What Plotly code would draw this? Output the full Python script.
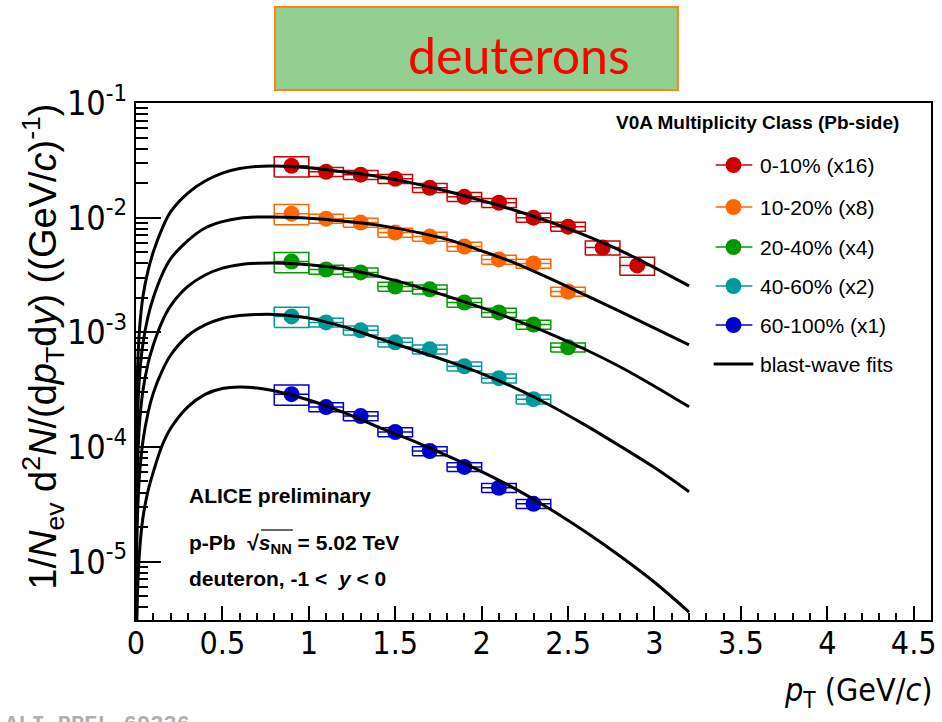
import plotly.graph_objects as go

# ---------------------------------------------------------------------------
# Deuteron pT spectra in p-Pb collisions, V0A multiplicity classes (scaled)
# ---------------------------------------------------------------------------
pt_bins = [0.9, 1.1, 1.3, 1.5, 1.7, 1.9, 2.1, 2.3, 2.5, 2.7, 2.9]
bin_half_width = 0.1

class_labels = ["0-10% (x16)", "10-20% (x8)", "20-40% (x4)", "40-60% (x2)", "60-100% (x1)"]
class_colors = ["#CC0000", "#FF6600", "#009900", "#009999", "#0000CC"]

spec_0_10 = [0.0283, 0.0251, 0.0237, 0.0218, 0.0182, 0.0152, 0.0135, 0.0100, 0.00835, 0.00548, 0.00383]
spec_10_20 = [0.01083, 0.0098, 0.00906, 0.00741, 0.00684, 0.0056, 0.00432, 0.00398, 0.00227]
spec_20_40 = [0.00414, 0.00353, 0.00333, 0.00251, 0.00237, 0.00182, 0.00149, 0.00117, 0.000741]
spec_40_60 = [0.001377, 0.00122, 0.00104, 0.000818, 0.000711, 0.000506, 0.000398, 0.000261]
spec_60_100 = [0.000289, 0.000223, 0.000186, 0.000135, 0.0000923, 0.0000670, 0.0000440, 0.0000319]

# relative systematic uncertainties per bin
sys_0_10 = [0.20, 0.09, 0.09, 0.09, 0.09, 0.09, 0.09, 0.09, 0.09, 0.14, 0.18]
sys_10_20 = [0.20, 0.09, 0.09, 0.09, 0.09, 0.09, 0.09, 0.09, 0.09]
sys_20_40 = [0.20, 0.09, 0.09, 0.09, 0.09, 0.09, 0.09, 0.09, 0.09]
sys_40_60 = [0.20, 0.09, 0.09, 0.09, 0.09, 0.09, 0.09, 0.09]
sys_60_100 = [0.20, 0.09, 0.09, 0.09, 0.09, 0.09, 0.09, 0.09]

# blast-wave fit curves, sampled in pT
fit_pt = [0.0001, 0.001, 0.005, 0.01, 0.02, 0.04, 0.07, 0.1, 0.15, 0.2, 0.3, 0.4, 0.5, 0.6,
          0.7, 0.8, 1.0, 1.2, 1.4, 1.6, 1.8, 2.0, 2.2, 2.4, 2.6, 2.8, 3.0, 3.2]
fit_0_10 = [5.25e-6, 5.25e-5, 2.63e-4, 5.25e-4, 1.047e-3, 2.04e-3, 3.47e-3, 5.01e-3, 7.94e-3,
            0.01122, 0.0164, 0.0209, 0.0245, 0.0268, 0.0280, 0.0282, 0.0272, 0.0251, 0.0229,
            0.0200, 0.0170, 0.0141, 0.01148, 0.00912, 0.0070, 0.00519, 0.00367, 0.00254]
fit_10_20 = [2.04e-6, 2.04e-5, 1.023e-4, 2.04e-4, 4.07e-4, 7.94e-4, 1.38e-3, 2.0e-3, 3.16e-3,
             4.37e-3, 6.31e-3, 8.13e-3, 9.23e-3, 9.89e-3, 0.01012, 0.01012, 9.89e-3, 9.33e-3,
             8.61e-3, 7.59e-3, 6.46e-3, 5.13e-3, 3.98e-3, 2.92e-3, 2.11e-3, 1.52e-3, 1.089e-3, 7.76e-4]
fit_20_40 = [7.94e-7, 7.94e-6, 3.98e-5, 7.94e-5, 1.585e-4, 3.09e-4, 5.37e-4, 7.76e-4, 1.23e-3,
             1.70e-3, 2.51e-3, 3.16e-3, 3.63e-3, 3.89e-3, 4.0e-3, 4.03e-3, 3.89e-3, 3.59e-3,
             3.09e-3, 2.57e-3, 2.07e-3, 1.64e-3, 1.27e-3, 9.66e-4, 7.08e-4, 5.01e-4, 3.39e-4, 2.24e-4]
fit_40_60 = [2.82e-7, 2.82e-6, 1.41e-5, 2.82e-5, 5.62e-5, 1.12e-4, 2.0e-4, 2.95e-4, 4.57e-4,
             6.31e-4, 9.33e-4, 1.16e-3, 1.32e-3, 1.40e-3, 1.43e-3, 1.43e-3, 1.33e-3, 1.12e-3,
             8.91e-4, 7.08e-4, 5.62e-4, 4.37e-4, 3.24e-4, 2.29e-4, 1.55e-4, 1.02e-4, 6.61e-5, 4.07e-5]
fit_60_100 = [6.31e-8, 6.31e-7, 3.02e-6, 6.03e-6, 1.20e-5, 2.40e-5, 4.17e-5, 6.03e-5, 1.02e-4,
              1.45e-4, 2.24e-4, 2.88e-4, 3.24e-4, 3.34e-4, 3.27e-4, 3.09e-4, 2.57e-4, 2.0e-4,
              1.50e-4, 1.135e-4, 8.41e-5, 6.10e-5, 4.27e-5, 2.85e-5, 1.82e-5, 1.12e-5, 6.61e-6, 3.63e-6]

y_tick_vals = [1e-5, 1e-4, 1e-3, 1e-2, 1e-1]
y_tick_text = ["10<sup>-5</sup>", "10<sup>-4</sup>", "10<sup>-3</sup>", "10<sup>-2</sup>", "10<sup>-1</sup>"]

spectra = [spec_0_10, spec_10_20, spec_20_40, spec_40_60, spec_60_100]
sys_unc = [sys_0_10, sys_10_20, sys_20_40, sys_40_60, sys_60_100]
fits = [fit_0_10, fit_10_20, fit_20_40, fit_40_60, fit_60_100]

# ---------------------------------------------------------------------------
W, H = 942, 722
L, R, T, B = 136, 937, 103, 620
HELV = "Liberation Sans Narrow, Arial Narrow, DejaVu Sans Condensed, Liberation Sans, Arial"
HELV_N = "Liberation Sans, Arial, Helvetica"


def px(x):
    return (x - L) / (R - L)


def py(y):
    return (B - y) / (B - T)


fig = go.Figure()

# systematic boxes + points
for vals, rel, col in zip(spectra, sys_unc, class_colors):
    n = len(vals)
    xs = pt_bins[:n]
    bx, by = [], []
    for x, v, r in zip(xs, vals, rel):
        x0, x1 = x - bin_half_width, x + bin_half_width
        lo, hi = v * (1 - r), v * (1 + r)
        bx += [x0, x1, x1, x0, x0, None]
        by += [lo, lo, hi, hi, lo, None]
    fig.add_trace(go.Scatter(x=bx, y=by, mode="lines", line=dict(color=col, width=1.5),
                             hoverinfo="skip", showlegend=False))
    fig.add_trace(go.Scatter(
        x=xs, y=vals, mode="markers",
        marker=dict(size=16, color=col, line=dict(width=0)),
        error_x=dict(type="data", array=[bin_half_width] * n, width=0, thickness=1.5, color=col),
        showlegend=False))

# blast-wave curves
for f in fits:
    fig.add_trace(go.Scatter(x=fit_pt, y=f, mode="lines", line=dict(color="black", width=3, shape="spline"),
                             hoverinfo="skip", showlegend=False))

shapes = []
annotations = []

# title box
shapes.append(dict(type="rect", xref="paper", yref="paper", x0=px(276), x1=px(682), y0=py(90), y1=py(7),
                   fillcolor="#92D092", line=dict(color="#FF8418", width=2), layer="above"))
annotations.append(dict(xref="paper", yref="paper", x=px(522), y=py(55), text="deuterons",
                        showarrow=False, xanchor="center", yanchor="middle",
                        font=dict(family="Lato, Carlito, Open Sans", size=50, color="#FF0000")))

# legend header
annotations.append(dict(xref="paper", yref="paper", x=px(907), y=py(122), text="<b>V0A Multiplicity Class (Pb-side)</b>",
                        showarrow=False, xanchor="right", yanchor="middle",
                        font=dict(family=HELV_N, size=19, color="black")))
legend_rows = [165, 207, 247, 286, 325, 364]
for lab, col, yr in zip(class_labels, class_colors, legend_rows):
    shapes.append(dict(type="line", xref="paper", yref="paper", x0=px(720), x1=px(757), y0=py(yr), y1=py(yr),
                       line=dict(color=col, width=1.5)))
    r = 8
    shapes.append(dict(type="circle", xref="paper", yref="paper", x0=px(738 - r), x1=px(738 + r),
                       y0=py(yr + r), y1=py(yr - r), fillcolor=col, line=dict(width=0)))
    annotations.append(dict(xref="paper", yref="paper", x=px(763), y=py(yr), text=lab, showarrow=False,
                            xanchor="left", yanchor="middle", font=dict(family=HELV_N, size=21, color="black")))
shapes.append(dict(type="line", xref="paper", yref="paper", x0=px(718), x1=px(758), y0=py(legend_rows[-1]),
                   y1=py(legend_rows[-1]), line=dict(color="black", width=3)))
annotations.append(dict(xref="paper", yref="paper", x=px(763), y=py(legend_rows[-1]), text="blast-wave fits",
                        showarrow=False, xanchor="left", yanchor="middle",
                        font=dict(family=HELV_N, size=21, color="black")))

# labels in the lower left
annotations.append(dict(xref="paper", yref="paper", x=px(187), y=py(495), text="<b>ALICE preliminary</b>",
                        showarrow=False, xanchor="left", yanchor="middle", font=dict(family=HELV_N, size=21, color="black")))
annotations.append(dict(xref="paper", yref="paper", x=px(187), y=py(544),
                        text="<b>p-Pb  √<i>s</i><sub>NN</sub> = 5.02 TeV</b>",
                        showarrow=False, xanchor="left", yanchor="middle", font=dict(family=HELV_N, size=21, color="black")))
shapes.append(dict(type="line", xref="paper", yref="paper", x0=px(262), x1=px(294), y0=py(530), y1=py(530),
                   line=dict(color="black", width=1.2)))
annotations.append(dict(xref="paper", yref="paper", x=px(187), y=py(578),
                        text="<b>deuteron, -1 <  <i>y</i> < 0</b>",
                        showarrow=False, xanchor="left", yanchor="middle", font=dict(family=HELV_N, size=21, color="black")))

# axis titles
annotations.append(dict(xref="paper", yref="paper", x=px(42), y=py(347), textangle=-90,
                        text="1/<i>N</i><sub>ev</sub> d<sup>2</sup><i>N</i>/(d<i>p</i><sub>T</sub>d<i>y</i>) ((GeV/<i>c</i>)<sup>-1</sup>)",
                        showarrow=False, xanchor="center", yanchor="middle",
                        font=dict(family=HELV_N, size=38, color="black")))
annotations.append(dict(xref="paper", yref="paper", x=px(940), y=py(692),
                        text="<i>p</i><sub>T</sub> (GeV/<i>c</i>)",
                        showarrow=False, xanchor="right", yanchor="middle",
                        font=dict(family=HELV, size=32, color="black")))

# plot id
annotations.append(dict(xref="paper", yref="paper", x=px(2), y=py(725), text="<b>ALI-PREL-69336</b>",
                        showarrow=False, xanchor="left", yanchor="middle",
                        font=dict(family="Liberation Mono, DejaVu Sans Mono", size=22, color="#B0B0B0")))

fig.update_layout(
    width=W, height=H,
    margin=dict(l=L, r=W - R, t=T, b=H - B),
    paper_bgcolor="white", plot_bgcolor="white",
    showlegend=False,
    shapes=shapes, annotations=annotations,
    xaxis=dict(range=[0, 4.6], showgrid=False, zeroline=False,
               showline=True, mirror=True, linecolor="black", linewidth=2,
               ticks="inside", ticklen=14, tickwidth=1.5, tickcolor="black",
               tick0=0, dtick=0.5, ticklabelstandoff=-6,
               minor=dict(ticks="inside", ticklen=7, tickwidth=1.5, tickcolor="black", dtick=0.1, showgrid=False),
               tickfont=dict(family=HELV, size=32, color="black")),
    yaxis=dict(type="log", range=[-5.509, -1], showgrid=False, zeroline=False,
               showline=True, mirror=True, linecolor="black", linewidth=2,
               ticks="inside", ticklen=25, tickwidth=1.5, tickcolor="black",
               tickvals=y_tick_vals, ticktext=y_tick_text,
               minor=dict(ticks="inside", ticklen=12, tickwidth=1.5, tickcolor="black", dtick="D1", showgrid=False),
               tickfont=dict(family=HELV, size=34, color="black")),
)

fig.write_html("out.html")
